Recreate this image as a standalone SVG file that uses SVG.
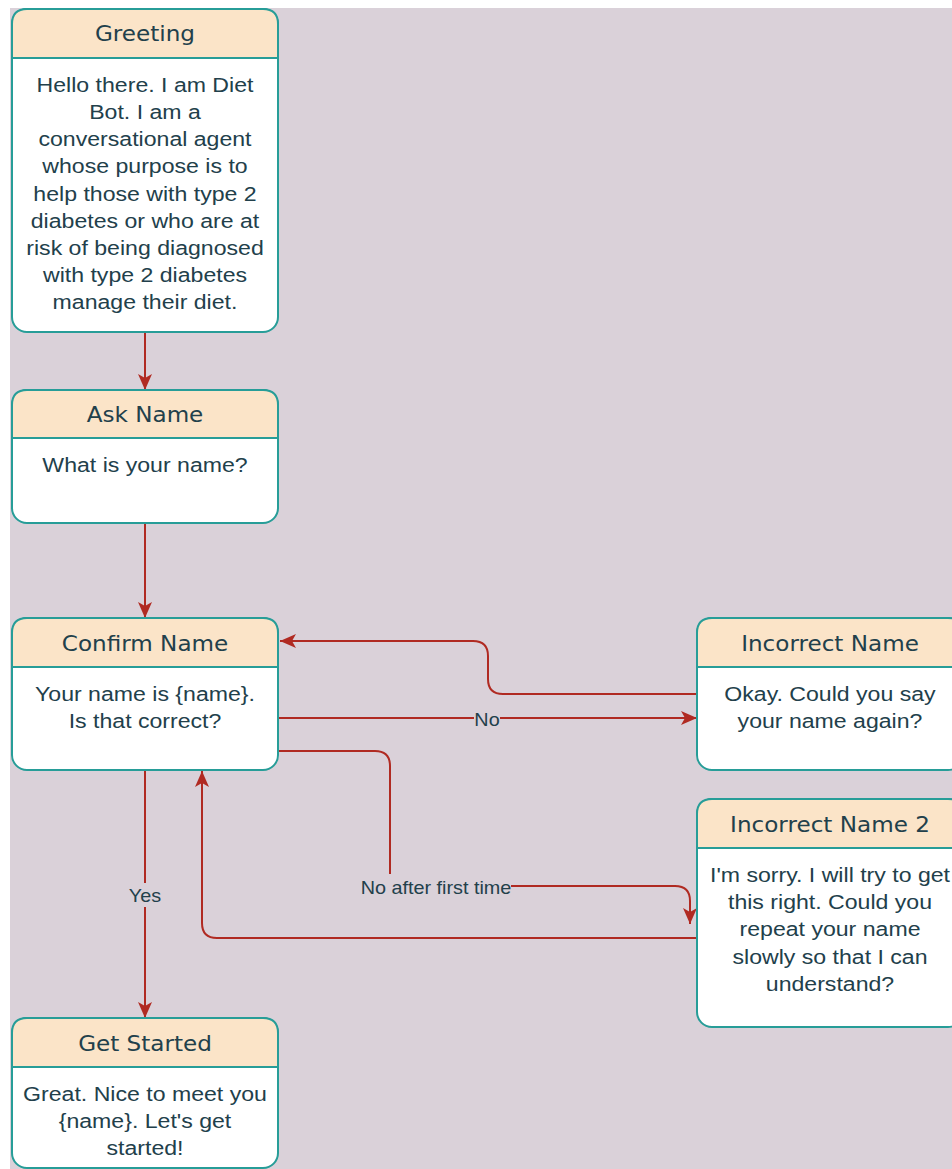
<svg xmlns="http://www.w3.org/2000/svg" width="952" height="1169" viewBox="0 0 952 1169">
  <defs>
    <marker id="arrow" viewBox="-17 -8 18 16" refX="0" refY="0" markerWidth="18" markerHeight="16" markerUnits="userSpaceOnUse" orient="auto">
      <path d="M0,0 L-16,-7 L-12,0 L-16,7 Z" fill="#B02A22"/>
    </marker>
  </defs>
  <style>
    .box { fill: #ffffff; stroke: #279D98; stroke-width: 2; }
    .head { fill: #FBE4C8; stroke: #279D98; stroke-width: 2; }
    .title { font-family: "DejaVu Sans", sans-serif; font-size: 21px; fill: #22404B; text-anchor: middle; }
    .body { font-family: "Liberation Sans", Arial, sans-serif; font-size: 21px; fill: #22404B; text-anchor: middle; }
    .edge { fill: none; stroke: #B02A22; stroke-width: 2; marker-end: url(#arrow); }
    .label { font-family: "Liberation Sans", Arial, sans-serif; font-size: 18px; fill: #22404B; text-anchor: middle; }
    .labelbg { fill: #DAD1D9; }
  </style>

  <!-- canvas -->
  <rect x="0" y="0" width="952" height="1169" fill="#ffffff"/>
  <rect x="10" y="8" width="942" height="1161" fill="#DAD1D9"/>

  <!-- connectors -->
  <g id="connectors">
    <path class="edge" d="M145,332 V390"/>
    <path class="edge" d="M145,523 V618"/>
    <path class="edge" d="M278,718 H697"/>
    <path class="edge" d="M697,694 H503 Q488,694 488,679 V656 Q488,641 473,641 H280"/>
    <path class="edge" d="M278,751 H375 Q390,751 390,766 V886 H675 Q690,886 690,901 V924"/>
    <path class="edge" d="M697,938 H217 Q202,938 202,923 V771"/>
    <path class="edge" d="M145,770 V1018"/>
    <rect class="labelbg" x="474" y="710" width="26" height="18"/>
    <g transform="translate(487,726) scale(1.1,1)"><text class="label" x="0" y="0">No</text></g>
    <rect class="labelbg" x="355" y="874" width="156" height="20"/>
    <g transform="translate(436,894) scale(1.1,1)"><text class="label" x="0" y="0">No after first time</text></g>
    <rect class="labelbg" x="128" y="883" width="34" height="24"/>
    <g transform="translate(145,902) scale(1.1,1)"><text class="label" x="0" y="0">Yes</text></g>
  </g>

  <!-- Greeting -->
  <g id="greeting">
    <rect class="box" x="12" y="9" width="266" height="323" rx="15"/>
    <path class="head" d="M12,58 V24 Q12,9 27,9 H263 Q278,9 278,24 V58 Z"/>
    <g transform="translate(145,0) scale(1.1,1)">
      <text class="title" x="0" y="41">Greeting</text>
      <text class="body" x="0" y="92">Hello there. I am Diet</text>
      <text class="body" x="0" y="119">Bot. I am a</text>
      <text class="body" x="0" y="146">conversational agent</text>
      <text class="body" x="0" y="173">whose purpose is to</text>
      <text class="body" x="0" y="201">help those with type 2</text>
      <text class="body" x="0" y="228">diabetes or who are at</text>
      <text class="body" x="0" y="255">risk of being diagnosed</text>
      <text class="body" x="0" y="282">with type 2 diabetes</text>
      <text class="body" x="0" y="309">manage their diet.</text>
    </g>
  </g>

  <!-- Ask Name -->
  <g id="ask-name">
    <rect class="box" x="12" y="390" width="266" height="133" rx="15"/>
    <path class="head" d="M12,438 V405 Q12,390 27,390 H263 Q278,390 278,405 V438 Z"/>
    <g transform="translate(145,0) scale(1.1,1)">
      <text class="title" x="0" y="422">Ask Name</text>
      <text class="body" x="0" y="472">What is your name?</text>
    </g>
  </g>

  <!-- Confirm Name -->
  <g id="confirm-name">
    <rect class="box" x="12" y="618" width="266" height="152" rx="15"/>
    <path class="head" d="M12,667 V633 Q12,618 27,618 H263 Q278,618 278,633 V667 Z"/>
    <g transform="translate(145,0) scale(1.1,1)">
      <text class="title" x="0" y="651">Confirm Name</text>
      <text class="body" x="0" y="701">Your name is {name}.</text>
      <text class="body" x="0" y="728">Is that correct?</text>
    </g>
  </g>

  <!-- Incorrect Name -->
  <g id="incorrect-name">
    <rect class="box" x="697" y="618" width="266" height="152" rx="15"/>
    <path class="head" d="M697,667 V633 Q697,618 712,618 H948 Q963,618 963,633 V667 Z"/>
    <g transform="translate(830,0) scale(1.1,1)">
      <text class="title" x="0" y="651">Incorrect Name</text>
      <text class="body" x="0" y="701">Okay. Could you say</text>
      <text class="body" x="0" y="728">your name again?</text>
    </g>
  </g>

  <!-- Incorrect Name 2 -->
  <g id="incorrect-name-2">
    <rect class="box" x="697" y="799" width="266" height="228" rx="15"/>
    <path class="head" d="M697,848 V814 Q697,799 712,799 H948 Q963,799 963,814 V848 Z"/>
    <g transform="translate(830,0) scale(1.1,1)">
      <text class="title" x="0" y="832">Incorrect Name 2</text>
      <text class="body" x="0" y="882">I'm sorry. I will try to get</text>
      <text class="body" x="0" y="909">this right. Could you</text>
      <text class="body" x="0" y="936">repeat your name</text>
      <text class="body" x="0" y="964">slowly so that I can</text>
      <text class="body" x="0" y="991">understand?</text>
    </g>
  </g>

  <!-- Get Started -->
  <g id="get-started">
    <rect class="box" x="12" y="1018" width="266" height="150" rx="15"/>
    <path class="head" d="M12,1067 V1033 Q12,1018 27,1018 H263 Q278,1018 278,1033 V1067 Z"/>
    <g transform="translate(145,0) scale(1.1,1)">
      <text class="title" x="0" y="1051">Get Started</text>
      <text class="body" x="0" y="1101">Great. Nice to meet you</text>
      <text class="body" x="0" y="1128">{name}. Let's get</text>
      <text class="body" x="0" y="1155">started!</text>
    </g>
  </g>
</svg>
